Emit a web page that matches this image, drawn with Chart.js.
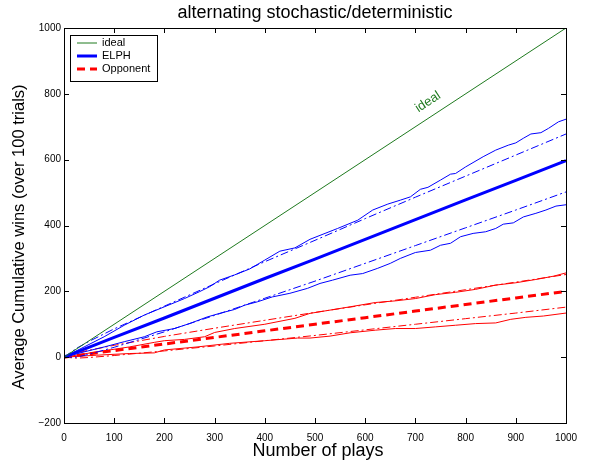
<!DOCTYPE html>
<html lang="en">
<head>
<meta charset="UTF-8">
<title>alternating stochastic/deterministic</title>
<style>
  html, body { margin: 0; padding: 0; background: #fff; }
  #wrap { width: 590px; height: 461px; }
</style>
<script src="https://cdn.jsdelivr.net/npm/chart.js@4/dist/chart.umd.min.js"></script>
</head>
<body>
<div id="wrap"><canvas id="chart" width="590" height="461"></canvas></div>
<script>
// tick labels
const xTicks = [0, 100, 200, 300, 400, 500, 600, 700, 800, 900, 1000];
const yTicks = [-200, 0, 200, 400, 600, 800, 1000];

// ideal line
const idealX = [0, 1000];
const idealY = [0, 1000];

// ELPH (blue): mean, band (dash-dot), min/max runs (thin solid)
const meanX = [0, 100, 200, 300, 400, 500, 600, 700, 800, 900, 1000];
const elphMean = [0, 60, 119, 179, 239, 298, 358, 418, 478, 537, 597];
const bandX = [0, 25, 50, 100, 200, 300, 400, 500, 600, 700, 800, 900, 1000];
const elphBandHi = [0, 27, 48, 86, 155, 223, 290, 355, 421, 486, 550, 614, 678];
const elphBandLo = [0, 0, 9, 30, 77, 127, 179, 231, 285, 339, 393, 447, 502];
const elphHiX = [0, 40, 80, 120, 160, 200, 240, 270, 290, 310, 340, 370, 400, 430, 460, 490, 520, 545, 585, 615, 645, 670, 690, 710, 725, 750, 770, 780, 800, 835, 860, 885, 900, 915, 930, 950, 965, 985, 1000];
const elphHiY = [0, 31, 62, 97, 128, 153, 178, 199, 214, 234, 250, 268, 295, 322, 332, 358, 376, 391, 416, 447, 465, 477, 487, 510, 516, 538, 556, 558, 578, 609, 629, 644, 651, 665, 678, 682, 695, 715, 723];
const elphLoX = [0, 40, 80, 120, 160, 185, 220, 250, 285, 310, 340, 360, 385, 415, 450, 485, 510, 535, 570, 595, 625, 650, 670, 700, 730, 750, 770, 790, 815, 840, 860, 875, 895, 915, 940, 960, 980, 1000];
const elphLoY = [0, 16, 31, 47, 62, 77, 87, 102, 122, 133, 145, 158, 168, 183, 194, 209, 224, 234, 249, 254, 270, 285, 300, 318, 325, 340, 346, 366, 376, 381, 391, 404, 408, 426, 437, 447, 459, 463];

// Opponent (red)
const oppMean = [0, 20, 40, 60, 80, 100, 120, 140, 160, 180, 200];
const oppBandHi = [0, 13, 21, 36, 63, 88, 112, 136, 159, 182, 205, 228, 251];
const oppBandLo = [0, -3, -1, 5, 19, 34, 50, 66, 83, 100, 117, 134, 152];
const oppHiX = [0, 65, 130, 180, 200, 240, 280, 300, 340, 400, 460, 490, 530, 570, 620, 660, 700, 740, 780, 820, 860, 900, 940, 975, 1000];
const oppHiY = [0, 16, 31, 45, 50, 54, 62, 75, 87, 100, 118, 133, 143, 153, 166, 171, 178, 190, 197, 206, 219, 226, 236, 246, 256];
const oppLoX = [0, 65, 130, 180, 200, 265, 330, 400, 465, 490, 530, 570, 620, 660, 700, 740, 780, 820, 860, 890, 920, 955, 1000];
const oppLoY = [0, 6, 11, 13, 22, 31, 42, 50, 58, 58, 64, 74, 82, 87, 87, 92, 97, 102, 104, 115, 121, 125, 134];

const GREEN = '#1f7a1f';
const BLUE = '#0000ff';
const RED = '#ff0000';
const DASHDOT = [8, 3, 2, 3];
const FONT = 'Arial, "Liberation Sans", Helvetica, sans-serif';

function pts(xs, ys) {
  return xs.map((x, i) => ({ x: x, y: ys[i] }));
}

function line(label, data, color, width, dash, legend) {
  return {
    label: label,
    data: data,
    borderColor: color,
    backgroundColor: color,
    borderWidth: width,
    borderDash: dash || [],
    pointRadius: 0,
    tension: 0,
    fill: false,
    inLegend: !!legend
  };
}

// frame, inward ticks, titles, in-plot legend, "ideal" label
const decorations = {
  id: 'decorations',
  afterDraw(chart) {
    const ctx = chart.ctx;
    const a = chart.chartArea;
    const xs = chart.scales.x, ys = chart.scales.y;
    ctx.save();

    // titles
    ctx.fillStyle = '#000';
    ctx.textAlign = 'center';
    ctx.textBaseline = 'middle';
    ctx.font = '18px ' + FONT;
    ctx.fillText('alternating stochastic/deterministic', (a.left + a.right) / 2, 13);
    ctx.fillText('Number of plays', (a.left + a.right) / 2 + 3, 451);
    ctx.save();
    ctx.translate(19, 237);
    ctx.rotate(-Math.PI / 2);
    ctx.font = '16.5px ' + FONT;
    ctx.fillText('Average Cumulative wins (over 100 trials)', 0, 0);
    ctx.restore();

    // box and ticks
    ctx.strokeStyle = '#000';
    ctx.lineWidth = 1;
    ctx.strokeRect(a.left + 0.5, a.top + 0.5, a.right - a.left, a.bottom - a.top);
    const tl = 5;
    ctx.beginPath();
    xTicks.forEach(v => {
      const px = Math.round(xs.getPixelForValue(v)) + 0.5;
      ctx.moveTo(px, a.bottom); ctx.lineTo(px, a.bottom - tl);
      ctx.moveTo(px, a.top); ctx.lineTo(px, a.top + tl);
    });
    yTicks.forEach(v => {
      const py = Math.round(ys.getPixelForValue(v)) + 0.5;
      ctx.moveTo(a.left, py); ctx.lineTo(a.left + tl, py);
      ctx.moveTo(a.right, py); ctx.lineTo(a.right - tl, py);
    });
    ctx.stroke();

    // "ideal" label along the line
    const x0 = xs.getPixelForValue(0), y0 = ys.getPixelForValue(0);
    const x1 = xs.getPixelForValue(1000), y1 = ys.getPixelForValue(1000);
    const ang = Math.atan2(y1 - y0, x1 - x0);
    ctx.save();
    ctx.translate(xs.getPixelForValue(725), ys.getPixelForValue(775));
    ctx.rotate(ang);
    ctx.fillStyle = GREEN;
    ctx.font = '13px ' + FONT;
    ctx.fillText('ideal', 0, 0);
    ctx.restore();

    // legend box
    const items = chart.data.datasets.filter(d => d.inLegend);
    const bx = a.left + 6, by = a.top + 7, bw = 87, bh = 46;
    ctx.fillStyle = '#fff';
    ctx.fillRect(bx, by, bw, bh);
    ctx.strokeStyle = '#000';
    ctx.strokeRect(bx + 0.5, by + 0.5, bw, bh);
    ctx.font = '11px ' + FONT;
    ctx.textAlign = 'left';
    items.forEach((d, i) => {
      const ry = by + 8 + i * 13;
      ctx.strokeStyle = d.borderColor;
      ctx.lineWidth = d.borderWidth;
      ctx.setLineDash(d.borderDash);
      ctx.beginPath();
      ctx.moveTo(bx + 7, ry); ctx.lineTo(bx + 27, ry);
      ctx.stroke();
      ctx.setLineDash([]);
      ctx.fillStyle = '#000';
      ctx.fillText(d.label, bx + 32, ry);
    });
    ctx.restore();
  }
};

new Chart(document.getElementById('chart'), {
  type: 'line',
  data: {
    datasets: [
      line('ideal', pts(idealX, idealY), GREEN, 1, null, true),
      line('ELPH max', pts(elphHiX, elphHiY), BLUE, 1),
      line('ELPH min', pts(elphLoX, elphLoY), BLUE, 1),
      line('ELPH band hi', pts(bandX, elphBandHi), BLUE, 1, DASHDOT),
      line('ELPH band lo', pts(bandX, elphBandLo), BLUE, 1, DASHDOT),
      line('ELPH', pts(meanX, elphMean), BLUE, 3, null, true),
      line('Opp max', pts(oppHiX, oppHiY), RED, 1),
      line('Opp min', pts(oppLoX, oppLoY), RED, 1),
      line('Opp band hi', pts(bandX, oppBandHi), RED, 1, DASHDOT),
      line('Opp band lo', pts(bandX, oppBandLo), RED, 1, DASHDOT),
      line('Opponent', pts(meanX, oppMean), RED, 3, [8, 5], true)
    ]
  },
  options: {
    responsive: false,
    animation: false,
    devicePixelRatio: 1,
    layout: { padding: { left: 0, right: 24, top: 28, bottom: 0 } },
    plugins: { legend: { display: false }, title: { display: false }, tooltip: { enabled: false } },
    scales: {
      x: {
        type: 'linear',
        min: 0, max: 1000,
        grid: { display: false, drawTicks: false },
        border: { display: false },
        afterBuildTicks: s => { s.ticks = xTicks.map(v => ({ value: v })); },
        afterFit: s => { s.height = 38; },
        ticks: { color: '#000', font: { family: FONT, size: 10 }, padding: 9, maxRotation: 0,
                 callback: v => String(v) }
      },
      y: {
        type: 'linear',
        min: -200, max: 1000,
        grid: { display: false, drawTicks: false },
        border: { display: false },
        afterBuildTicks: s => { s.ticks = yTicks.map(v => ({ value: v })); },
        afterFit: s => { s.width = 64; },
        ticks: { color: '#000', font: { family: FONT, size: 10 }, padding: 3,
                 callback: v => String(v).replace('-', '\u2212') }
      }
    }
  },
  plugins: [decorations]
});
</script>
</body>
</html>
